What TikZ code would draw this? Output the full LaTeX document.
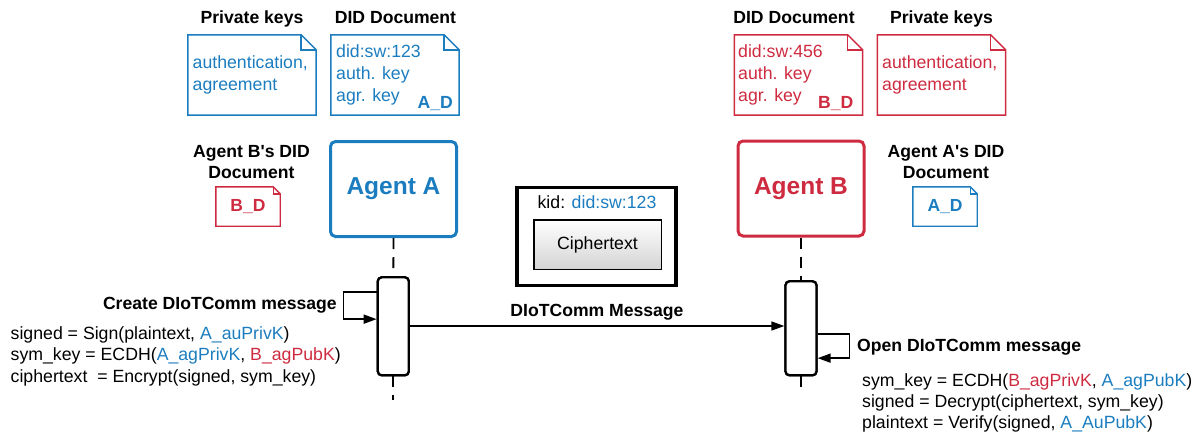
\documentclass[tikz,border=0pt]{standalone}
\usepackage{fontspec}
\setmainfont{Liberation Sans}
\usetikzlibrary{arrows.meta}
\definecolor{ablue}{RGB}{27,125,191}
\definecolor{bred}{RGB}{206,43,64}

\tikzset{
  txt/.style={font=\fontsize{17.7}{22}\selectfont, inner sep=0pt},
  ttl/.style={font=\fontsize{17.6}{22}\selectfont\bfseries, inner sep=0pt},
  docarea/.style={inner sep=0pt, minimum width=128pt, minimum height=80pt},
  smalldoc/.style={inner sep=0pt, minimum width=64pt, minimum height=39pt,
    font=\fontsize{17.5}{22}\selectfont\bfseries},
  agent/.style={draw, line width=3pt, rounded corners=5pt, minimum width=126pt,
    minimum height=95pt, inner sep=0pt, font=\fontsize{24.5}{28}\selectfont\bfseries},
  act/.style={draw, line width=2.3pt, rounded corners=4pt, minimum width=31pt,
    inner sep=0pt, fill=white},
  life/.style={line width=1.8pt, dash pattern=on 11pt off 8pt},
  msg/.style={line width=1.5pt, -{Triangle[length=13pt,width=9pt]}},
}

% folded-corner document outline around a node
\newcommand\noteoutline[4]{% node, colour, fold size, line width
  \draw[#2, line width=#4, line join=miter]
    (#1.north west) -- ([xshift=-#3]#1.north east) -- ([yshift=-#3]#1.north east)
    -- (#1.south east) -- (#1.south west) -- cycle;
  \draw[#2, line width=#4] ([xshift=-#3]#1.north east) |- ([yshift=-#3]#1.north east);
}

\begin{document}
\begin{tikzpicture}[x=1pt, y=-1pt]
\useasboundingbox (0,0) rectangle (1202,437);

% ---- key material of agent A
\node[ttl, anchor=base] (pkAt) at (252,23) {Private keys};
\node[docarea] (pkA) at (252,75) {};
\noteoutline{pkA}{ablue}{15pt}{1.5pt}
\node[txt, anchor=base west, text=ablue] (pkA1) at (192.5,68) {authentication,};
\node[txt, anchor=base west, text=ablue] (pkA2) at (192.5,90) {agreement};

\node[ttl, anchor=base] (ddAt) at (395.5,23) {DID Document};
\node[docarea] (ddA) at (395,75) {};
\noteoutline{ddA}{ablue}{15pt}{1.5pt}
\node[txt, anchor=base west, text=ablue] (ddA1) at (336,57) {did:sw:123};
\node[txt, anchor=base west, text=ablue] (ddA2) at (336,79) {auth. key};
\node[txt, anchor=base west, text=ablue] (ddA3) at (336,101) {agr. key};
\node[ttl, anchor=base east, text=ablue] (ddA4) at (453,108) {A\_D};

% ---- key material of agent B
\node[ttl, anchor=base] (ddBt) at (794,23) {DID Document};
\node[docarea] (ddB) at (798.5,75) {};
\noteoutline{ddB}{bred}{15pt}{1.5pt}
\node[txt, anchor=base west, text=bred] (ddB1) at (738,57) {did:sw:456};
\node[txt, anchor=base west, text=bred] (ddB2) at (738,79) {auth. key};
\node[txt, anchor=base west, text=bred] (ddB3) at (738,101) {agr. key};
\node[ttl, anchor=base east, text=bred] (ddB4) at (853.5,108) {B\_D};

\node[ttl, anchor=base] (pkBt) at (941.5,23) {Private keys};
\node[docarea] (pkB) at (941.5,75) {};
\noteoutline{pkB}{bred}{15pt}{1.5pt}
\node[txt, anchor=base west, text=bred] (pkB1) at (882,68) {authentication,};
\node[txt, anchor=base west, text=bred] (pkB2) at (882,90) {agreement};

% ---- copies of the peer's DID document
\node[ttl, anchor=base] (bdt1) at (251.5,157.5) {Agent B\textquotesingle s DID};
\node[ttl, anchor=base] (bdt2) at (251.5,178) {Document};
\node[smalldoc, text=bred] (bd) at (248,206.5) {B\_D};
\noteoutline{bd}{bred}{7pt}{1.4pt}

\node[ttl, anchor=base] (adt1) at (946,157.5) {Agent A\textquotesingle s DID};
\node[ttl, anchor=base] (adt2) at (946,178) {Document};
\node[smalldoc, text=ablue] (ad) at (945,206.5) {A\_D};
\noteoutline{ad}{ablue}{7pt}{1.4pt}

% ---- agents
\node[agent, draw=ablue, text=ablue] (agA) at (393.5,189) {Agent A};
\node[agent, draw=bred, text=bred] (agB) at (801,188.5) {Agent B};

% ---- message contents
\node[draw, line width=3.5pt, minimum width=159pt, minimum height=98pt, inner sep=0pt]
  (box) at (596.5,236.5) {};
\node[txt, anchor=base] (kid) at (597,208) {kid:\space\textcolor{ablue}{did:sw:123}};
\node[draw, line width=1.5pt, top color=white, bottom color=black!17,
  minimum width=127.5pt, minimum height=49.5pt, inner sep=0pt,
  font=\fontsize{17.7}{22}\selectfont] (ct) at (597.5,244.5) {Ciphertext};

% ---- lifelines and activations
\node[act, minimum height=98pt] (actA) at (393.3,326.3) {};
\node[act, minimum height=94pt] (actB) at (801,328.3) {};
\coordinate (endA) at (393.3,400);
\coordinate (endB) at (801,395);
\draw[life] (agA.south) -- (actA.north);
\draw[life] (actA.south) -- (endA);
\draw[life] (agB.south) -- (actB.north);
\draw[life] (actB.south) -- (endB);
\node[act, minimum height=98pt] at (actA) {};
\node[act, minimum height=94pt] at (actB) {};

% ---- self messages
\draw[msg, line width=1.6pt] ([yshift=-16pt]actA.north west) -- ++(-33,0)
  |- ([yshift=-43pt]actA.north west);
\draw[msg, line width=1.6pt] ([yshift=-54pt]actB.north east) -- ++(32,0)
  |- ([yshift=-78pt]actB.north east);

% ---- message between agents
\coordinate (my) at (0,326);
\draw[msg] (actA.east |- my) -- (actB.west |- my);
\node[ttl, anchor=base] (mlab) at (597,316.5) {DIoTComm Message};

% ---- processing steps of agent A
\node[ttl, anchor=base east] (cA) at (337,309) {Create DIoTComm message};
\node[txt, anchor=base west] (cA1) at (10.5,339) {signed = Sign(plaintext, \textcolor{ablue}{A\_auPrivK})};
\node[txt, anchor=base west] (cA2) at (10.5,360.5) {sym\_key = ECDH(\textcolor{ablue}{A\_agPrivK}, \textcolor{bred}{B\_agPubK})};
\node[txt, anchor=base west] (cA3) at (10.5,382) {ciphertext~ = Encrypt(signed, sym\_key)};

% ---- processing steps of agent B
\node[ttl, anchor=base west] (oB) at (857,351) {Open DIoTComm message};
\node[txt, anchor=base west] (oB1) at (862,386.5) {sym\_key = ECDH(\textcolor{bred}{B\_agPrivK}, \textcolor{ablue}{A\_agPubK})};
\node[txt, anchor=base west] (oB2) at (862,407.5) {signed = Decrypt(ciphertext, sym\_key)};
\node[txt, anchor=base west] (oB3) at (862,428.5) {plaintext = Verify(signed, \textcolor{ablue}{A\_AuPubK})};
\end{tikzpicture}
\end{document}
